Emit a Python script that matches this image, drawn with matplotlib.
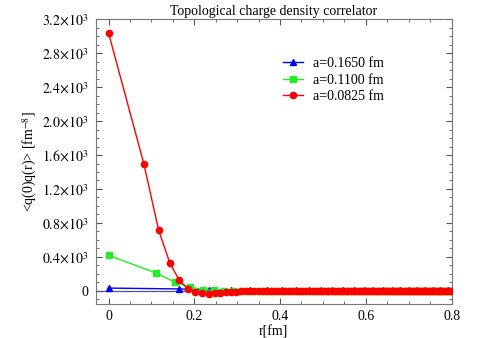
import matplotlib
matplotlib.use("Agg")
import matplotlib.pyplot as plt
from matplotlib.ticker import MultipleLocator, FuncFormatter

plt.rcParams['font.family'] = ['Liberation Serif', 'DejaVu Serif']
plt.rcParams['mathtext.fontset'] = 'stix'

# a = 0.1650 fm
r_165 = [0, 0.165, 0.2333, 0.2858, 0.33, 0.369, 0.4042, 0.4366, 0.4667, 0.495,
         0.5218, 0.5472, 0.5716, 0.5949, 0.6174, 0.639, 0.66, 0.6803, 0.70,
         0.7192, 0.7379, 0.7561, 0.7739, 0.7913, 0.8083]
c_165 = [32, 22, 8, 5, 4, 4, 4, 4, 4, 4,
         4, 4, 4, 4, 4, 4, 4, 4, 4,
         4, 4, 4, 4, 4, 4]

# a = 0.1100 fm
r_110 = [0, 0.11, 0.1556, 0.1905, 0.22, 0.246, 0.2694, 0.291, 0.3111, 0.33,
         0.3479, 0.3648, 0.3811, 0.3966, 0.4116, 0.426, 0.44, 0.4535, 0.4667,
         0.4795, 0.4919, 0.5041, 0.5159, 0.5275, 0.5389, 0.55, 0.5609, 0.5716,
         0.5821, 0.5924, 0.6025, 0.6125, 0.6223, 0.6319, 0.6414, 0.6508, 0.66,
         0.6691, 0.6781, 0.687, 0.6957, 0.7043, 0.7129, 0.7213, 0.7296, 0.7379,
         0.746, 0.7541, 0.7621, 0.77, 0.7778, 0.7855, 0.7932, 0.8008]
c_110 = [418, 212, 100, 45, 15, 6, 3, 2, 1, 1,
         1, 1, 1, 1, 1, 0, 0, 0, 0,
         0, 0, 0, 0, 0, 0, 0, 0, 0,
         0, 0, 0, 0, 0, 0, 0, 0, 0,
         0, 0, 0, 0, 0, 0, 0, 0, 0,
         0, 0, 0, 0, 0, 0, 0, 0]

# a = 0.0825 fm
r_0825 = [0, 0.0825, 0.1167, 0.1429, 0.165, 0.1845, 0.2021, 0.2183, 0.2333, 0.2475,
          0.2609, 0.2736, 0.2858, 0.2975, 0.3087, 0.3195, 0.33, 0.3402, 0.35, 0.3596,
          0.369, 0.3781, 0.387, 0.3957, 0.4042, 0.4125, 0.4207, 0.4287, 0.4366, 0.4443,
          0.4519, 0.4593, 0.4667, 0.4739, 0.4811, 0.4881, 0.495, 0.5018, 0.5086, 0.5152,
          0.5218, 0.5283, 0.5347, 0.541, 0.5472, 0.5534, 0.5595, 0.5656, 0.5716, 0.5775,
          0.5834, 0.5892, 0.5949, 0.6006, 0.6062, 0.6118, 0.6174, 0.6229, 0.6283, 0.6337,
          0.639, 0.6443, 0.6496, 0.6548, 0.66, 0.6651, 0.6702, 0.6753, 0.6803, 0.6853,
          0.6902, 0.6952, 0.70, 0.7049, 0.7097, 0.7145, 0.7192, 0.7239, 0.7286, 0.7333,
          0.7379, 0.7425, 0.7471, 0.7516, 0.7561, 0.7606, 0.7651, 0.7695, 0.7739, 0.7783,
          0.7827, 0.787, 0.7913, 0.7956, 0.7999]
c_0825 = [3040, 1495, 718, 328, 125, 24, -12, -31, -43, -31,
          -23, -19, -12, -10, -8, -6, -5, -4, -3, -3,
          -2, -2, -2, -1, -1, -1, -1, -1, -1, -1,
          0, 0, 0, 0, 0, 0, 0, 0, 0, 0,
          0, 0, 0, 0, 0, 0, 0, 0, 0, 0,
          0, 0, 0, 0, 0, 0, 0, 0, 0, 0,
          0, 0, 0, 0, 0, 0, 0, 0, 0, 0,
          0, 0, 0, 0, 0, 0, 0, 0, 0, 0,
          0, 0, 0, 0, 0, 0, 0, 0, 0, 0,
          0, 0, 0, 0, 0]

fig = plt.figure(figsize=(4.83, 3.38), dpi=100)
ax = fig.add_axes([0.198, 0.102, 0.737, 0.841])

ax.axhline(0, color='#5050b0', lw=0.9, zorder=1)
ax.plot(r_165, c_165, '-^', color='#0000ff', lw=1, ms=4, label='a=0.1650 fm', zorder=2)
ax.plot(r_110, c_110, '-s', color='#22ee22', lw=1, ms=4, label='a=0.1100 fm', zorder=3)
ax.plot(r_0825, c_0825, '-o', color='#ff0000', lw=1, ms=4.5, label='a=0.0825 fm', zorder=4)

ax.set_xlim(-0.03, 0.8)
ax.set_ylim(-150, 3200)
ax.xaxis.set_major_locator(MultipleLocator(0.2))
ax.xaxis.set_minor_locator(MultipleLocator(0.05))
ax.yaxis.set_major_locator(MultipleLocator(400))
ax.yaxis.set_minor_locator(MultipleLocator(100))
ax.xaxis.set_major_formatter(FuncFormatter(lambda v, p: '0' if abs(v) < 1e-9 else '%.1f' % v))
ax.yaxis.set_major_formatter(FuncFormatter(
    lambda v, p: '0' if abs(v) < 1e-9 else r'$%.1f{\times}10^{3}$' % (v / 1000)))
ax.tick_params(which='both', direction='in', top=True, right=True, colors='#555555',
               labelcolor='black', labelsize=10)
ax.tick_params(which='major', length=4, pad=5)
ax.tick_params(which='minor', length=2)
for s in ax.spines.values():
    s.set_color('#777777')

ax.set_title('Topological charge density correlator', fontsize=10, pad=3)
ax.set_xlabel('r[fm]', fontsize=10, labelpad=1)
ax.set_ylabel(r'<q(0)q(r)> [fm$^{-8}$]', fontsize=10, labelpad=2)

ax.legend(loc='upper left', bbox_to_anchor=(0.49, 0.91), frameon=False, fontsize=10,
          handlelength=1.5, labelspacing=0.25, handletextpad=0.7)

fig.savefig('out.png', dpi=100)
